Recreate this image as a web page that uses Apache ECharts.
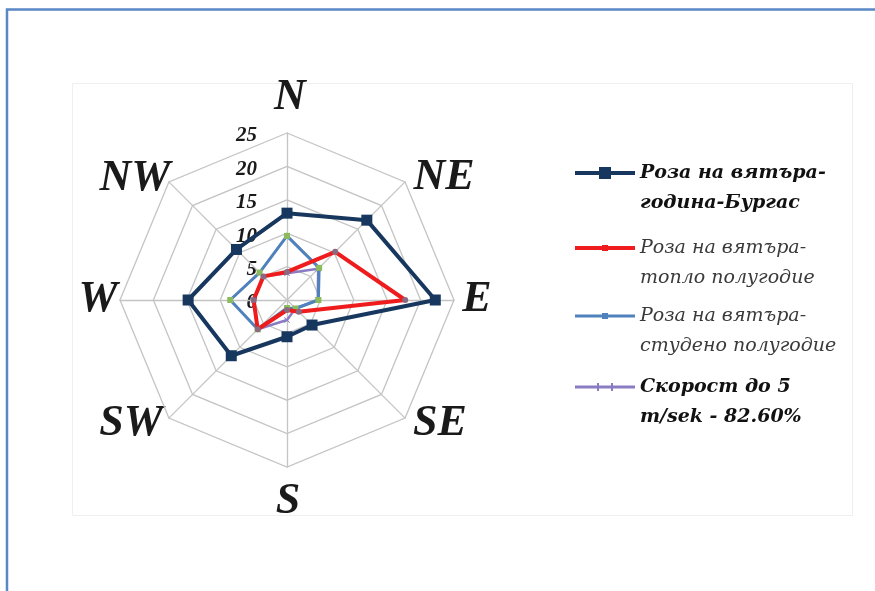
<!DOCTYPE html>
<html>
<head>
<meta charset="utf-8">
<script src="https://cdn.jsdelivr.net/npm/echarts@6/dist/echarts.min.js"></script>
<style>
  html, body { margin: 0; padding: 0; background: #fff; }
  #chart { width: 875px; height: 591px; }
</style>
</head>
<body>
<div id="chart"></div>
<script>
// Wind directions, clockwise from north
const directions = ['N', 'NE', 'E', 'SE', 'S', 'SW', 'W', 'NW'];
const ticks = [0, 5, 10, 15, 20, 25];

// Frequencies (%) per direction
const annualBurgas = [13.0, 16.9, 22.2, 5.3, 5.5, 11.8, 14.8, 10.7];
const warmHalf     = [4.2, 10.2, 17.7, 2.5, 1.5, 6.2, 5.0, 5.0];
const coldHalf     = [9.6, 6.8, 4.7, 1.8, 1.2, 6.2, 8.5, 5.8];
const calmSpeed    = [4.0, 6.6, 4.6, 1.8, 3.0, 6.2, 5.0, 5.0];

const seriesNames = [
  'Роза на вятъра-\nгодина-Бургас',
  'Роза на вятъра-\nтопло полугодие',
  'Роза на вятъра-\nстудено полугодие',
  'Скорост до 5\nm/sek - 82.60%'
];

// layout
const CX = 287, CY = 300, R = 167, MAX = 25;
const SERIF = '"Liberation Serif", "Times New Roman", serif';
const LEGEND_FONT = '"DejaVu Serif", serif';

// ECharts lays radar axes out counter-clockwise from the top,
// so walk the compass the other way round.
const axisOrder = [0, 7, 6, 5, 4, 3, 2, 1];
const reorder = arr => axisOrder.map(i => arr[i]);

// positions of the compass labels (text centres)
const dirLabelPos = {
  N: [290, 98], NE: [444, 178], E: [477, 300], SE: [440, 424],
  S: [288, 502], SW: [131, 424], W: [98, 300], NW: [135, 179]
};

const graphics = [
  { type: 'rect', shape: { x: 7, y: 9.5, width: 900, height: 620 },
    style: { fill: 'none', stroke: '#5a87c6', lineWidth: 2.5 }, silent: true, z: 0 },
  { type: 'rect', shape: { x: 72.5, y: 83.5, width: 780, height: 432 },
    style: { fill: 'none', stroke: '#efefef', lineWidth: 1 }, silent: true, z: 0 }
];
directions.forEach(d => {
  graphics.push({
    type: 'text', x: dirLabelPos[d][0], y: dirLabelPos[d][1], silent: true,
    style: { text: d, font: 'italic bold 44px ' + SERIF, fill: '#1a1a1a',
             align: 'center', verticalAlign: 'middle' }
  });
});
ticks.forEach(t => {
  graphics.push({
    type: 'text', x: 257, y: CY - R * t / MAX + 3, silent: true,
    style: { text: String(t), font: 'italic bold 21px ' + SERIF, fill: '#1a1a1a',
             align: 'right', verticalAlign: 'middle' }
  });
});

const styles = [
  { line: '#17375e', width: 4, symbol: 'rect', size: 11, mark: '#17375e',
    icon: 'path://M0,5H60V9H0Z M24,1H36V13H24Z', bold: true, text: '#111' },
  { line: '#ee1c1c', width: 4, symbol: 'circle', size: 6, mark: '#8a6a80',
    icon: 'path://M0,5H60V9H0Z M27,4H33V10H27Z', bold: false, text: '#3a3a3a' },
  { line: '#4f81bd', width: 3, symbol: 'rect', size: 6, mark: '#8cbb5e',
    icon: 'path://M0,5.5H60V8.5H0Z M27,4H33V10H27Z', bold: false, text: '#3a3a3a' },
  { line: '#8a7cc2', width: 2.5, symbol: 'path://M0,1L1,0L5,4L9,0L10,1L6,5L10,9L9,10L5,6L1,10L0,9L4,5Z',
    size: 6, mark: '#8a7cc2',
    icon: 'path://M0,5.5H60V8.5H0Z M22,3H24V11H22Z M36,3H38V11H36Z', bold: true, text: '#111' }
];
const values = [annualBurgas, warmHalf, coldHalf, calmSpeed];
const legendTops = [123, 198, 266, 337];

// the leading blank line keeps each icon level with the first text line
const legends = seriesNames.map((name, i) => ({
  data: [{ name: name, icon: styles[i].icon, itemStyle: { color: styles[i].line } }],
  left: 570, top: legendTops[i], orient: 'vertical',
  itemWidth: 60, itemHeight: 14, selectedMode: false,
  formatter: n => '\n' + n,
  textStyle: {
    fontFamily: LEGEND_FONT, fontSize: 19, fontStyle: 'italic',
    fontWeight: styles[i].bold ? 'bold' : 'normal',
    color: styles[i].text, lineHeight: 30
  }
}));

// draw order: thin lines below, annual rose on top
const drawOrder = [3, 2, 1, 0];
const series = drawOrder.map((i, k) => ({
  type: 'radar',
  name: seriesNames[i],
  symbol: styles[i].symbol,
  symbolSize: styles[i].size,
  color: styles[i].line,
  lineStyle: { color: styles[i].line, width: styles[i].width },
  itemStyle: { color: styles[i].mark, borderWidth: 0 },
  data: [{ value: reorder(values[i]), name: seriesNames[i] }],
  z: 2 + k
}));

const chart = echarts.init(document.getElementById('chart'), null, { renderer: 'canvas' });
chart.setOption({
  animation: false,
  backgroundColor: '#ffffff',
  legend: legends,
  radar: {
    center: [CX, CY],
    radius: R,
    startAngle: 90,
    shape: 'polygon',
    splitNumber: 5,
    indicator: reorder(directions).map(d => ({ name: d, min: 0, max: MAX })),
    axisName: { show: false },
    axisLine: { lineStyle: { color: '#c4c4c4', width: 1.3 } },
    splitLine: { lineStyle: { color: '#c4c4c4', width: 1.3 } },
    splitArea: { show: false },
    axisLabel: { show: false },
    axisTick: { show: false }
  },
  series: series,
  graphic: graphics
});
</script>
</body>
</html>
